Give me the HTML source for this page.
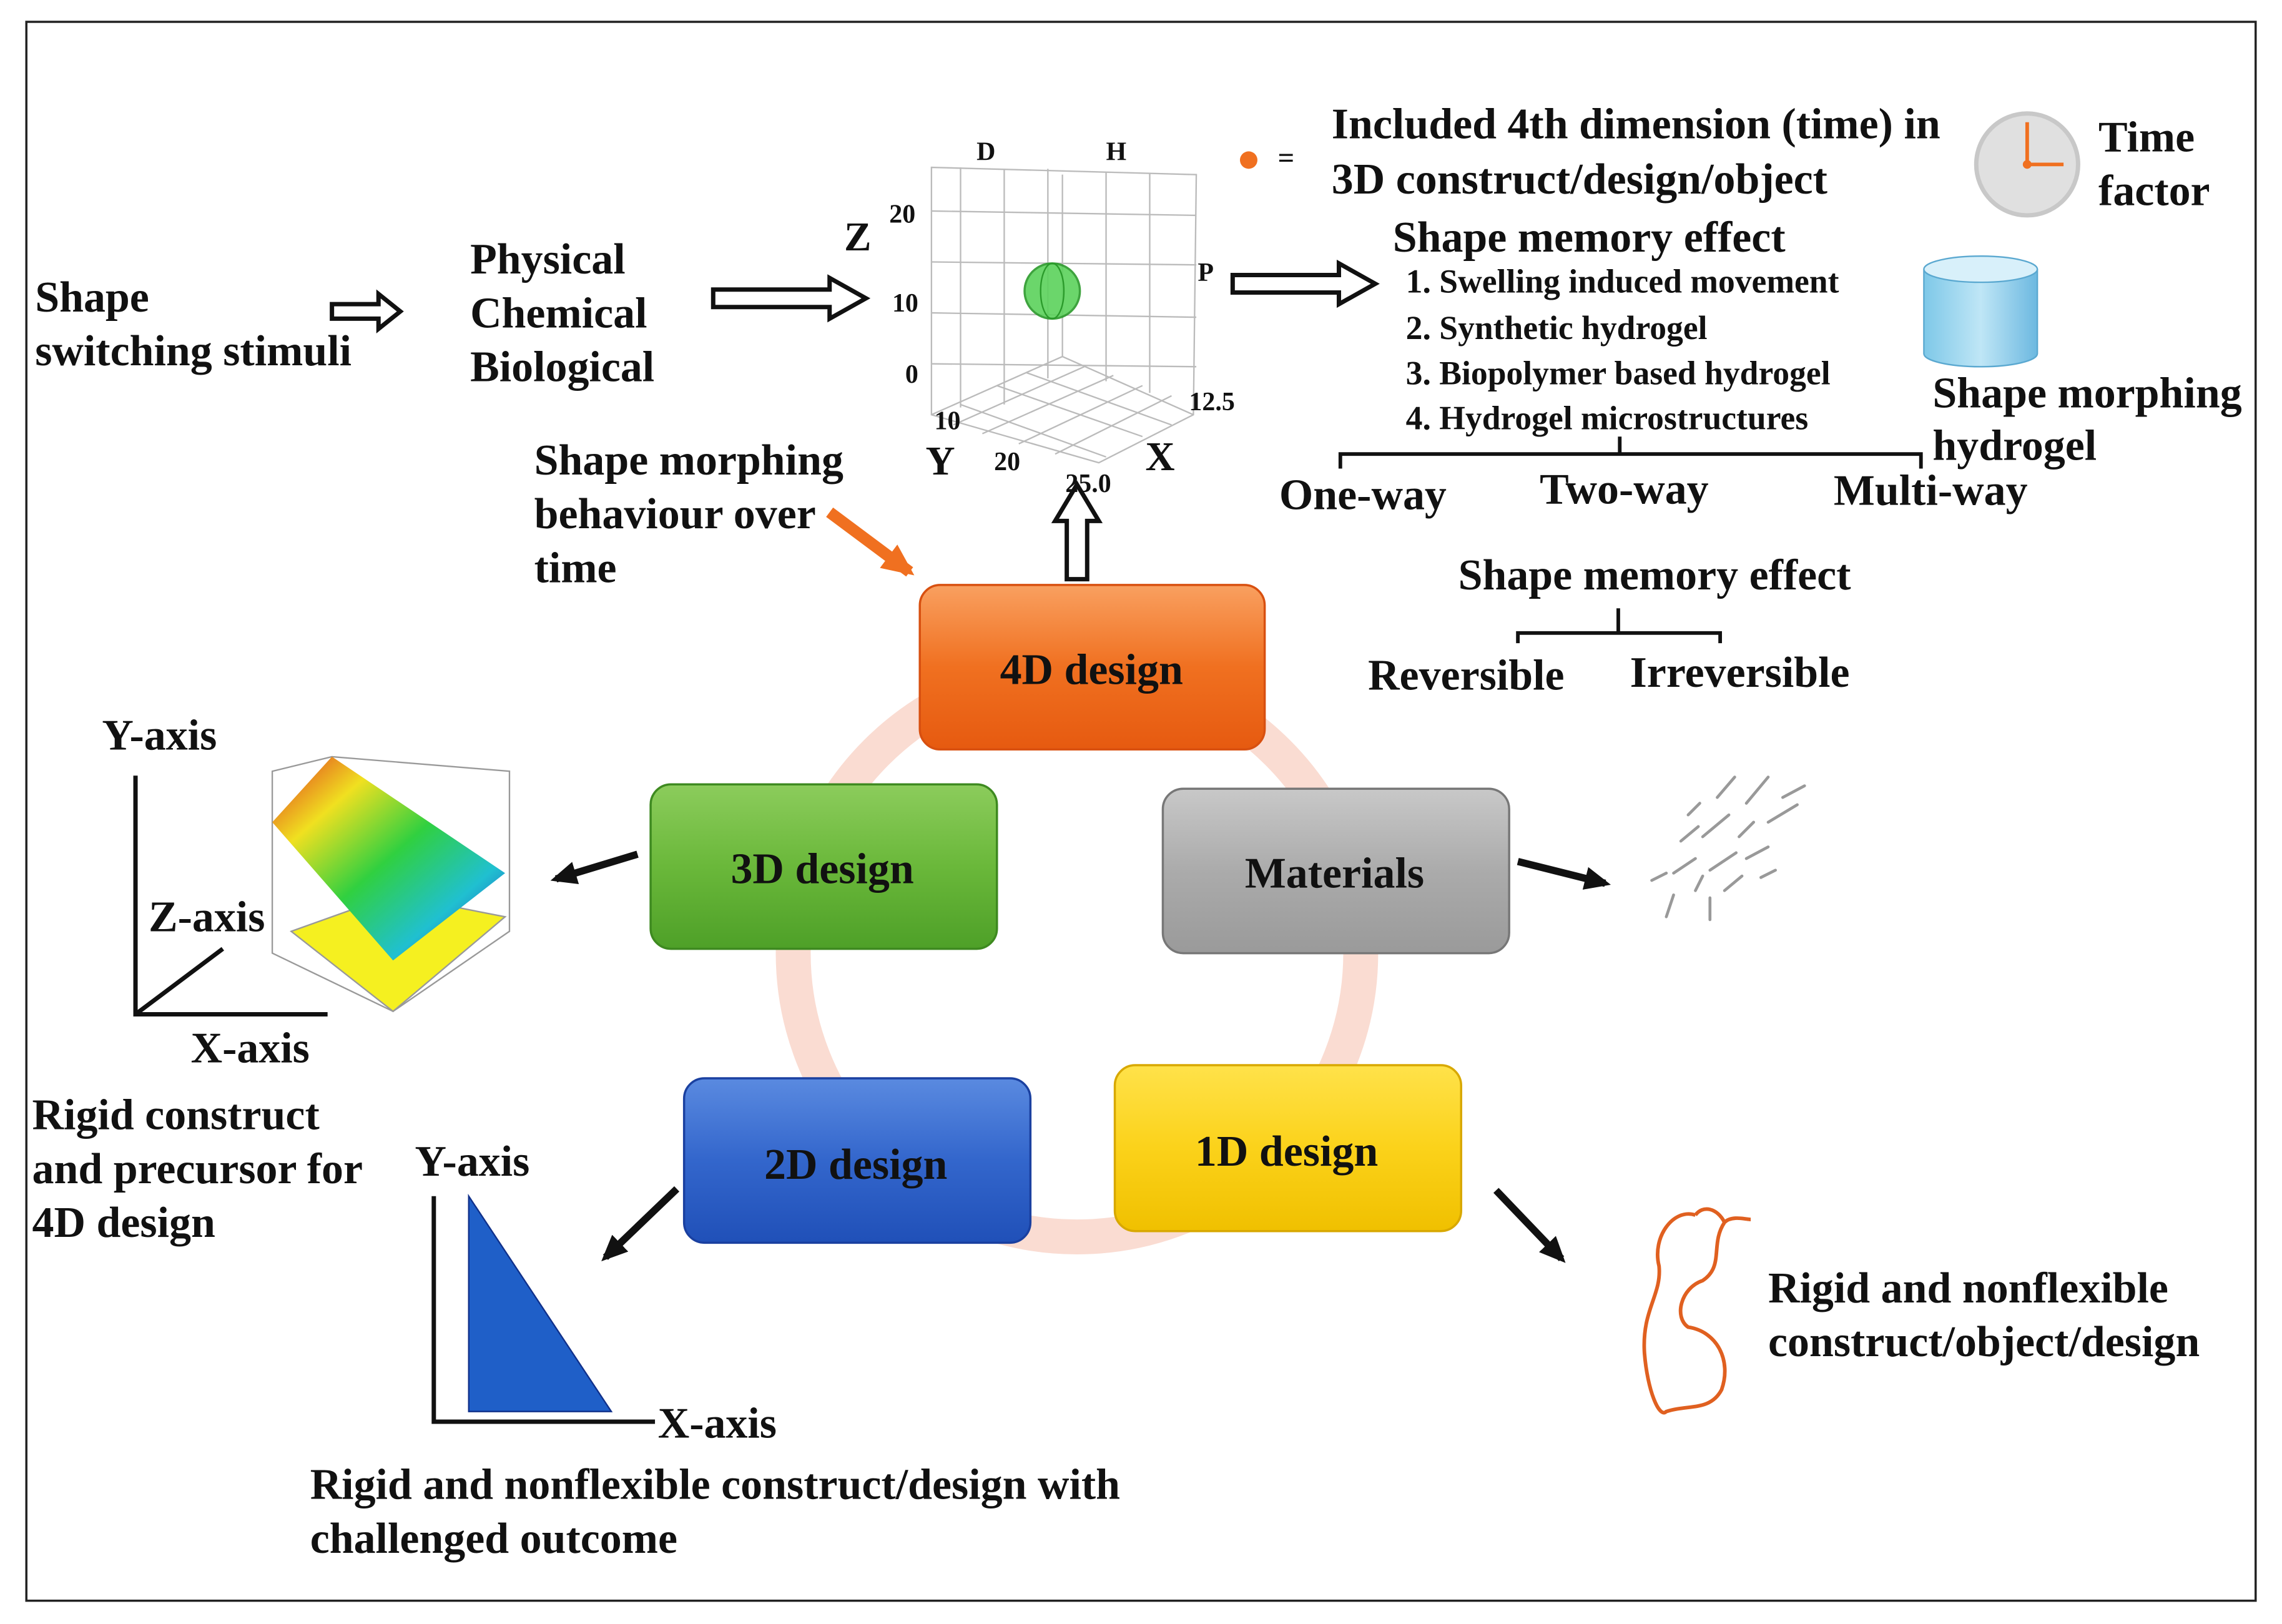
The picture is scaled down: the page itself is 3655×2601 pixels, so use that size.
<!DOCTYPE html>
<html><head><meta charset="utf-8"><style>
html,body{margin:0;padding:0;background:#fff;}
svg{display:block;}
text{font-family:"Liberation Serif",serif;font-weight:bold;fill:#111;}
</style></head><body>
<svg width="3655" height="2601" viewBox="0 0 1568 1116" xmlns="http://www.w3.org/2000/svg">
<defs>
<marker id="ah" markerWidth="8" markerHeight="8" refX="6" refY="4" orient="auto" markerUnits="userSpaceOnUse"><path d="M0,0 L8,4 L0,8 z" fill="#111"/></marker>
<marker id="ahb" markerWidth="18" markerHeight="16" refX="14" refY="8" orient="auto" markerUnits="userSpaceOnUse"><path d="M0,0 L18,8 L0,16 z" fill="#111"/></marker>
<marker id="aho" markerWidth="22" markerHeight="20" refX="18" refY="10" orient="auto" markerUnits="userSpaceOnUse"><path d="M0,0 L22,10 L0,20 z" fill="#f07020"/></marker>
<linearGradient id="g4" x1="0" y1="0" x2="0" y2="1"><stop offset="0" stop-color="#f9a060"/><stop offset="0.5" stop-color="#f07020"/><stop offset="1" stop-color="#e65a10"/></linearGradient>
<linearGradient id="g3" x1="0" y1="0" x2="0" y2="1"><stop offset="0" stop-color="#8ccc5c"/><stop offset="0.5" stop-color="#6ab83a"/><stop offset="1" stop-color="#4ea028"/></linearGradient>
<linearGradient id="gm" x1="0" y1="0" x2="0" y2="1"><stop offset="0" stop-color="#c8c8c8"/><stop offset="0.5" stop-color="#ababab"/><stop offset="1" stop-color="#9a9a9a"/></linearGradient>
<linearGradient id="g2" x1="0" y1="0" x2="0" y2="1"><stop offset="0" stop-color="#5a8ae0"/><stop offset="0.5" stop-color="#3366cc"/><stop offset="1" stop-color="#2050b8"/></linearGradient>
<linearGradient id="g1" x1="0" y1="0" x2="0" y2="1"><stop offset="0" stop-color="#ffe24a"/><stop offset="0.5" stop-color="#fbd21a"/><stop offset="1" stop-color="#f0c000"/></linearGradient>
<linearGradient id="rb" x1="0" y1="0" x2="1" y2="1"><stop offset="0" stop-color="#e03020"/><stop offset="0.25" stop-color="#f0e020"/><stop offset="0.5" stop-color="#30d040"/><stop offset="0.75" stop-color="#20c0d0"/><stop offset="1" stop-color="#2030c0"/></linearGradient>
<linearGradient id="cy" x1="0" y1="0" x2="1" y2="0"><stop offset="0" stop-color="#7ec8e8"/><stop offset="0.5" stop-color="#bfe6f6"/><stop offset="1" stop-color="#6cb8e0"/></linearGradient>
</defs>
<rect x="18" y="15" width="1532" height="1085" fill="#fff" stroke="#222" stroke-width="1.5"/>

<!-- ring -->
<circle cx="740" cy="655" r="195" fill="none" stroke="#fadcd2" stroke-width="24"/>

<!-- top-left text -->
<g font-size="30">
<text x="24" y="214">Shape</text>
<text x="24" y="251">switching stimuli</text>
<text x="323" y="188">Physical</text>
<text x="323" y="225">Chemical</text>
<text x="323" y="262">Biological</text>
</g>
<!-- hollow arrows -->
<path d="M228,209 h32 v-7 l15,12 l-15,12 v-7 h-32 z" fill="#fff" stroke="#111" stroke-width="3"/>
<path d="M490,199 h80 v-8 l25,14 l-25,14 v-8 h-80 z" fill="#fff" stroke="#111" stroke-width="3"/>
<path d="M847,189 h73 v-8 l25,14 l-25,14 v-8 h-73 z" fill="#fff" stroke="#111" stroke-width="3"/>
<path d="M733,398 v-40 h-8 l15,-25 l15,25 h-8 v40 z" fill="#fff" stroke="#111" stroke-width="3"/>

<!-- 3D plot -->
<g stroke="#bbb" stroke-width="1" fill="none">
<path d="M640,115 L822,120 L820,285 L755,318 L640,285 Z"/>
<path d="M640,285 L730,245 L820,285 M730,245 L730,120"/>
<path d="M660,115 V280 M690,116 V278 M720,116 V260 M760,118 V262 M790,119 V270"/>
<path d="M640,145 L822,148 M640,180 L822,182 M640,215 L822,218 M640,250 L822,252"/>
<path d="M655,292 L745,252 M675,298 L765,258 M700,305 L785,265 M725,312 L805,272 M660,278 L760,314 M685,265 L785,300 M705,256 L805,292"/>
</g>
<circle cx="723" cy="200" r="19" fill="#5cd25c" stroke="#2a9a2a" stroke-width="1.5" opacity="0.9"/>
<ellipse cx="723" cy="200" rx="8" ry="19" fill="none" stroke="#2a9a2a"/>
<g font-size="18">
<text x="671" y="110">D</text><text x="760" y="110">H</text>
<text x="611" y="153">20</text><text x="613" y="214">10</text><text x="622" y="263">0</text>
<text x="823" y="193">P</text><text x="642" y="295">10</text><text x="683" y="323">20</text>
<text x="817" y="282">12.5</text><text x="732" y="338">25.0</text>
</g>
<g font-size="28"><text x="580" y="172">Z</text><text x="636" y="326">Y</text><text x="787" y="323">X</text></g>

<circle cx="858" cy="110" r="6" fill="#f07020"/>
<text x="878" y="115" font-size="20">=</text>
<g font-size="30">
<text x="915" y="95">Included 4th dimension (time) in</text>
<text x="915" y="133">3D construct/design/object</text>
<text x="957" y="173">Shape memory effect</text>
<text x="1442" y="104">Time</text>
<text x="1442" y="141">factor</text>
<text x="1328" y="280">Shape morphing</text>
<text x="1328" y="316">hydrogel</text>
<text x="879" y="350">One-way</text>
<text x="1058" y="346">Two-way</text>
<text x="1260" y="347">Multi-way</text>
<text x="367" y="326">Shape morphing</text>
<text x="367" y="363">behaviour over</text>
<text x="367" y="400">time</text>
<text x="1002" y="405">Shape memory effect</text>
<text x="940" y="474">Reversible</text>
<text x="1120" y="472">Irreversible</text>
</g>
<g font-size="23">
<text x="966" y="201">1. Swelling induced movement</text>
<text x="966" y="233">2. Synthetic hydrogel</text>
<text x="966" y="264">3. Biopolymer based hydrogel</text>
<text x="966" y="295">4. Hydrogel microstructures</text>
</g>
<g stroke="#111" stroke-width="2.5" fill="none">
<path d="M921,322 V312 H1320 V322 M1113,312 V300"/>
<path d="M1043,442 V435 H1182 V442 M1112,435 V418"/>
</g>
<!-- clock -->
<circle cx="1393" cy="113" r="35" fill="#e0e0e0" stroke="#c8c8c8" stroke-width="3"/>
<path d="M1393,113 V84 M1393,113 H1418" stroke="#f07020" stroke-width="2.5"/>
<circle cx="1393" cy="113" r="3" fill="#f07020"/>
<!-- cylinder -->
<path d="M1322,185 V243 A39,9 0 0 0 1400,243 V185" fill="url(#cy)" stroke="#5aa8d0"/>
<ellipse cx="1361" cy="185" rx="39" ry="9" fill="#d8f0fa" stroke="#5aa8d0"/>

<!-- orange arrow -->
<line x1="570" y1="352" x2="625" y2="393" stroke="#f07020" stroke-width="8" marker-end="url(#aho)"/>

<!-- boxes -->
<g stroke-width="1.5">
<rect x="632" y="402" width="237" height="113" rx="14" fill="url(#g4)" stroke="#d85010"/>
<rect x="447" y="539" width="238" height="113" rx="14" fill="url(#g3)" stroke="#3e8a20"/>
<rect x="799" y="542" width="238" height="113" rx="14" fill="url(#gm)" stroke="#777"/>
<rect x="470" y="741" width="238" height="113" rx="14" fill="url(#g2)" stroke="#1a40a0"/>
<rect x="766" y="732" width="238" height="114" rx="14" fill="url(#g1)" stroke="#d8a800"/>
</g>
<g font-size="30" text-anchor="middle" fill="#222">
<text x="750" y="470">4D design</text>
<text x="565" y="607">3D design</text>
<text x="917" y="610">Materials</text>
<text x="588" y="810">2D design</text>
<text x="884" y="801">1D design</text>
</g>

<!-- black arrows -->
<g stroke="#111" stroke-width="5">
<line x1="438" y1="587" x2="382" y2="604" marker-end="url(#ahb)"/>
<line x1="1043" y1="592" x2="1103" y2="607" marker-end="url(#ahb)"/>
<line x1="465" y1="817" x2="416" y2="864" marker-end="url(#ahb)"/>
<line x1="1028" y1="818" x2="1073" y2="865" marker-end="url(#ahb)"/>
</g>

<!-- left 3D axes -->
<g font-size="30">
<text x="70" y="515">Y-axis</text>
<text x="102" y="640">Z-axis</text>
<text x="131" y="730">X-axis</text>
<text x="22" y="776">Rigid construct</text>
<text x="22" y="813">and precursor for</text>
<text x="22" y="850">4D design</text>
<text x="285" y="808">Y-axis</text>
<text x="452" y="988">X-axis</text>
<text x="213" y="1030">Rigid and nonflexible construct/design with</text>
<text x="213" y="1067">challenged outcome</text>
<text x="1215" y="895">Rigid and nonflexible</text>
<text x="1215" y="932">construct/object/design</text>
</g>
<path d="M93,533 V697 H225 M93,697 L153,652" stroke="#111" stroke-width="3" fill="none"/>
<g stroke="#999" stroke-width="1" fill="none">
<path d="M187,530 L228,520 L350,530 V640 L270,695 L187,655 Z M228,520 V610"/>
</g>
<path d="M200,640 L270,615 L347,630 L270,695 Z" fill="#f5f020" stroke="#999"/>
<path d="M187,565 L228,520 L347,600 L270,660 Z" fill="url(#rb)"/>
<!-- 2D triangle -->
<path d="M298,822 V977 H450" stroke="#111" stroke-width="3" fill="none"/>
<path d="M322,822 L322,970 L420,970 Z" fill="#1f5fc8" stroke="#10308a"/>

<!-- squiggles -->
<g stroke="#999" stroke-width="2" fill="none" stroke-linecap="round">
<path d="M1180,548 l12,-14 M1200,552 l15,-18 M1170,575 l18,-15 M1195,575 l10,-10 M1215,565 l20,-12 M1155,578 l12,-10 M1225,548 l15,-8 M1150,600 l15,-10 M1175,598 l18,-12 M1200,590 l15,-8 M1135,605 l10,-5 M1165,612 l5,-10 M1185,612 l12,-10 M1210,603 l10,-5 M1145,630 l5,-15 M1175,632 l0,-15 M1160,560 l8,-8"/>
</g>
<path d="M1165,835 C1150,830 1135,850 1140,870 C1142,890 1128,900 1130,930 C1132,955 1140,975 1145,970 C1160,965 1175,970 1183,955 C1190,935 1180,915 1160,912 C1150,905 1155,885 1170,880 C1185,870 1175,855 1185,840 C1190,835 1200,838 1203,838 M1165,835 C1170,828 1180,830 1185,840" stroke="#e06020" stroke-width="2.5" fill="none"/>
</svg>
</body></html>
